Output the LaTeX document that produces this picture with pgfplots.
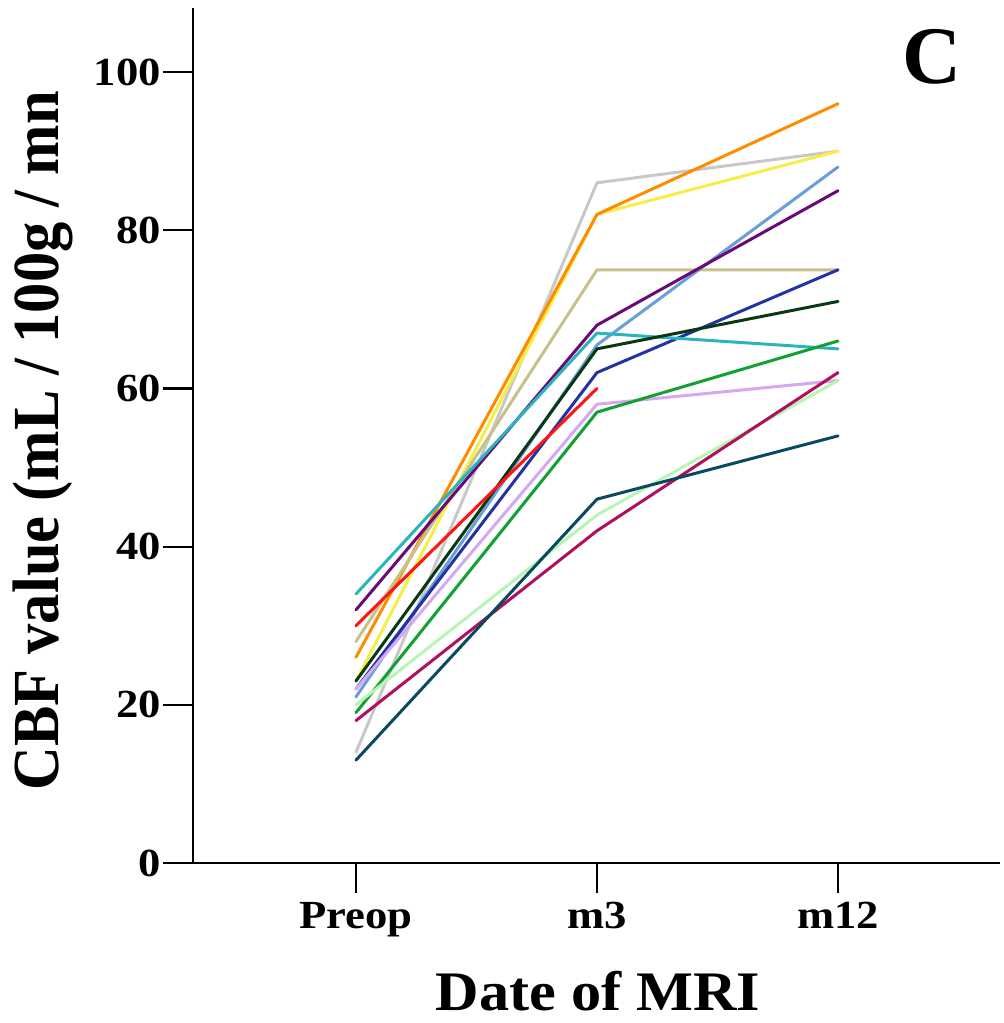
\documentclass[border=0pt]{standalone}
\usepackage{fontspec}
\setmainfont{Liberation Serif}
\newfontfamily\tickfont{Liberation Serif Bold}[FakeStretch=1.12]
\newfontfamily\xlabfont{Liberation Serif Bold}[FakeStretch=1.08]
\newfontfamily\ylabfont{Liberation Serif Bold}[FakeStretch=0.92]
\usepackage{pgfplots}
\pgfplotsset{compat=1.18}

\definecolor{ccyan}{HTML}{2AB5BE}
\definecolor{cpurple}{HTML}{6A0A78}
\definecolor{cred}{HTML}{FF1414}
\definecolor{ckhaki}{HTML}{C8C08A}
\definecolor{corange}{HTML}{FF8C00}
\definecolor{cyellow}{HTML}{F5EE45}
\definecolor{cdkgreen}{HTML}{0A3812}
\definecolor{clavender}{HTML}{D6A8F2}
\definecolor{cltblue}{HTML}{6A9ED8}
\definecolor{cblue}{HTML}{2333A3}
\definecolor{cltgreen}{HTML}{B8F5B5}
\definecolor{cgreen}{HTML}{12A032}
\definecolor{ccrimson}{HTML}{B0105E}
\definecolor{cgray}{HTML}{C8C8C8}
\definecolor{cdkteal}{HTML}{0A4A60}

\begin{document}
\begin{tikzpicture}
\path[use as bounding box] (-193bp,-160bp) rectangle (811bp,863bp);
\begin{axis}[
  scale only axis, width=807bp, height=855bp,
  xmin=-0.676, xmax=2.672, ymin=0, ymax=108.1,
  axis lines=left, axis line style={-, line width=2.2bp},
  xtick={0,1,2}, xticklabels={Preop,m3,m12},
  ytick={0,20,40,60,80,100},
  tick align=outside, major tick length=30bp,
  tick style={line width=2.2bp, black},
  /pgf/number format/assume math mode=true,
  ticklabel style={font=\fontsize{40}{40}\selectfont\tickfont, inner sep=1bp},
  xticklabel style={yshift=-8bp},
  yticklabel style={xshift=-1bp},
  xlabel={\xlabfont Date of MRI}, ylabel={\ylabfont CBF value (mL / 100g / mn},
  xlabel style={font=\fontsize{56}{56}\selectfont, text depth=0pt, inner sep=0pt,
    at={(axis description cs:0.502,-0.173)}, anchor=base},
  ylabel style={font=\fontsize{66}{66}\selectfont, at={(axis description cs:-0.186,0.4937)}, anchor=center},
  clip=false,
  every axis plot/.append style={line width=3bp, line join=round, line cap=round},
]
\addplot[color=cgray] coordinates {(0,14)(1,86)(2,90)};
\addplot[color=cyellow] coordinates {(0,23)(1,82)(2,90)};
\addplot[color=corange] coordinates {(0,26)(1,82)(2,96)};
\addplot[color=ckhaki] coordinates {(0,28)(1,75)(2,75)};
\addplot[color=cltblue] coordinates {(0,21)(1,65.5)(2,88)};
\addplot[color=cpurple] coordinates {(0,32)(1,68)(2,85)};
\addplot[color=cblue] coordinates {(0,22)(1,62)(2,75)};
\addplot[color=ccyan] coordinates {(0,34)(1,67)(2,65)};
\addplot[color=cdkgreen] coordinates {(0,23)(1,65)(2,71)};
\addplot[color=cred] coordinates {(0,30)(1,60)};
\addplot[color=clavender] coordinates {(0,22)(1,58)(2,61)};
\addplot[color=cgreen] coordinates {(0,19)(1,57)(2,66)};
\addplot[color=cltgreen] coordinates {(0,20)(1,44)(2,61)};
\addplot[color=ccrimson] coordinates {(0,18)(1,42)(2,62)};
\addplot[color=cdkteal] coordinates {(0,13)(1,46)(2,54)};
\end{axis}
\node[font=\fontsize{82}{82}\selectfont\bfseries] at (739bp,806bp) {C};
\end{tikzpicture}
\end{document}
